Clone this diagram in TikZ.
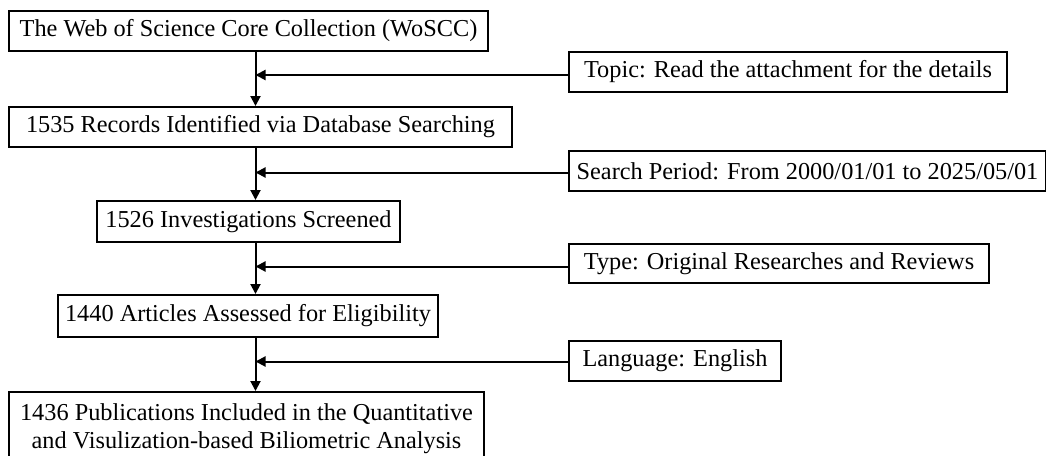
\documentclass[tikz,border=0pt]{standalone}
\usepackage{fontspec}
\setmainfont{Liberation Serif}
\usetikzlibrary{arrows.meta}
\begin{document}
\begin{tikzpicture}[x=1pt,y=1pt,
  box/.style={draw=black,line width=2pt,fill=white,inner sep=0pt,align=center,
    font=\fontsize{24.3}{28}\selectfont},
  side/.style={box,anchor=west},
  conn/.style={line width=2pt,-{Triangle[length=10pt,width=10pt]}}]
\useasboundingbox (0,0) rectangle (1046,-455);
\fill[white] (0,0) rectangle (1046,-455);
% main boxes
\node[box,minimum width=479,minimum height=40] (b1) at (248.5,-31) {The Web of Science Core Collection (WoSCC)};
\node[box,minimum width=503,minimum height=40] (b2) at (260.5,-127) {1535 Records Identified via Database Searching};
\node[box,minimum width=303,minimum height=41] (b3) at (248.5,-221.5) {1526 Investigations Screened};
\node[box,minimum width=380,minimum height=42] (b4) at (248,-316) {1440 Articles Assessed for Eligibility};
\node[box,minimum width=475,minimum height=68,text depth=0pt] (b5) at (246.5,-426) {1436 Publications Included in the Quantitative\\and Visulization-based Biliometric Analysis};
% side boxes
\node[side,minimum width=438,minimum height=40] (s1) at (568,-72) {Topic: Read the attachment for the details};
\node[side,minimum width=477,minimum height=40] (s2) at (568,-171) {Search Period: From 2000/01/01 to 2025/05/01};
\node[side,minimum width=420,minimum height=39] (s3) at (568,-263.5) {Type: Original Researches and Reviews};
\node[side,minimum width=212,minimum height=40] (s4) at (568,-361) {Language: English};
% spine junctions
\coordinate (spine) at (255.5,0);
\coordinate (j1) at (255.5,-75);
\coordinate (j2) at (255.5,-172.5);
\coordinate (j3) at (255.5,-266.5);
\coordinate (j4) at (255.5,-361.5);
% vertical connectors
\draw[conn] (b1.south -| spine) -- (b2.north -| spine);
\draw[conn] (b2.south -| spine) -- (b3.north -| spine);
\draw[conn] (b3.south -| spine) -- (b4.north -| spine);
\draw[conn] (b4.south -| spine) -- (b5.north -| spine);
% horizontal connectors
\draw[conn] (s1.west |- j1) -- (j1);
\draw[conn] (s2.west |- j2) -- (j2);
\draw[conn] (s3.west |- j3) -- (j3);
\draw[conn] (s4.west |- j4) -- (j4);
\end{tikzpicture}
\end{document}
